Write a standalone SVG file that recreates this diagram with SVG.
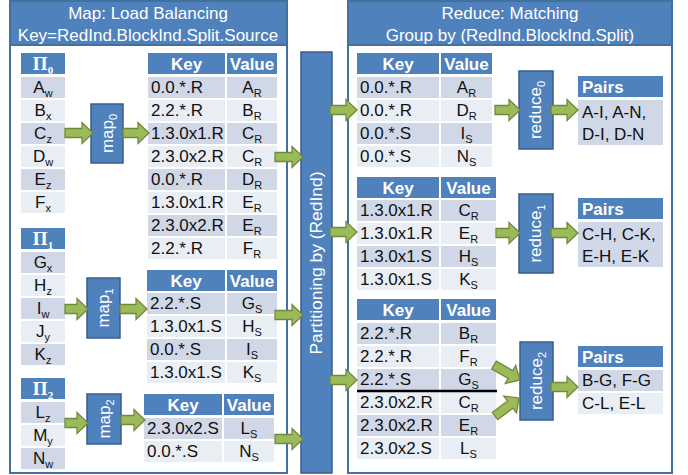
<svg xmlns="http://www.w3.org/2000/svg" width="688" height="475" viewBox="0 0 688 475">
<style>
.panel{fill:#fff;stroke:#41719C;stroke-width:2}
.h{fill:#4F81BD}
.d{fill:#D0D8E8}
.l{fill:#E9EDF4}
.box{fill:#4F81BD;stroke:#385D8A;stroke-width:1.5}
.t{font-family:"Liberation Sans",Arial,sans-serif;font-size:17px;fill:#111}
.c{text-anchor:middle}
.w{fill:#fff}
.b{font-weight:bold}
.pi{font-family:"Liberation Serif","Times New Roman",serif;font-size:19px;font-weight:bold;fill:#fff;text-anchor:middle}
.s{font-size:11px}
.arr{fill:#9BBB59;stroke:#71893F;stroke-width:1.3;stroke-linejoin:miter}
</style>
<defs>
<path id="a30" d="M0,-4.5 H19 V-10.5 L30,0 L19,10.5 V4.5 H0 Z"/>
</defs>
<rect width="688" height="475" fill="#fff"/>

<g id="map-panel">
<rect class="panel" x="10" y="1" width="277" height="472"/>
<rect class="h" x="10" y="1" width="277" height="44" stroke="#41719C" stroke-width="2"/>
<text class="t w c" x="148" y="19">Map: Load Balancing</text>
<text class="t w c" x="148" y="41">Key=RedInd.BlockInd.Split.Source</text>
</g>

<g id="reduce-panel">
<rect class="panel" x="348" y="1" width="324" height="472"/>
<rect class="h" x="348" y="1" width="324" height="44" stroke="#41719C" stroke-width="2"/>
<text class="t w c" x="510" y="19">Reduce: Matching</text>
<text class="t w c" x="510" y="41">Group by (RedInd.BlockInd.Split)</text>
</g>

<g id="pi0">
<rect class="h" x="21" y="53" width="44" height="21"/>
<text class="pi" x="43" y="70">Π<tspan class="s" dy="4" font-size="12">0</tspan></text>
<rect class="d" x="21" y="77" width="44" height="21"/><text class="t c" x="43" y="93">A<tspan class="s" dy="4">w</tspan></text>
<rect class="l" x="21" y="100" width="44" height="21"/><text class="t c" x="43" y="116">B<tspan class="s" dy="4">x</tspan></text>
<rect class="d" x="21" y="123" width="44" height="21"/><text class="t c" x="43" y="139">C<tspan class="s" dy="4">z</tspan></text>
<rect class="l" x="21" y="146" width="44" height="21"/><text class="t c" x="43" y="162">D<tspan class="s" dy="4">w</tspan></text>
<rect class="d" x="21" y="169" width="44" height="21"/><text class="t c" x="43" y="185">E<tspan class="s" dy="4">z</tspan></text>
<rect class="l" x="21" y="192" width="44" height="21"/><text class="t c" x="43" y="208">F<tspan class="s" dy="4">x</tspan></text>
</g>

<g id="pi1">
<rect class="h" x="21" y="228" width="44" height="21"/>
<text class="pi" x="43" y="245">Π<tspan class="s" dy="4" font-size="12">1</tspan></text>
<rect class="d" x="21" y="252" width="44" height="21"/><text class="t c" x="43" y="268">G<tspan class="s" dy="4">x</tspan></text>
<rect class="l" x="21" y="275" width="44" height="21"/><text class="t c" x="43" y="291">H<tspan class="s" dy="4">z</tspan></text>
<rect class="d" x="21" y="298" width="44" height="21"/><text class="t c" x="43" y="314">I<tspan class="s" dy="4">w</tspan></text>
<rect class="l" x="21" y="321" width="44" height="21"/><text class="t c" x="43" y="337">J<tspan class="s" dy="4">y</tspan></text>
<rect class="d" x="21" y="344" width="44" height="21"/><text class="t c" x="43" y="360">K<tspan class="s" dy="4">z</tspan></text>
</g>

<g id="pi2">
<rect class="h" x="21" y="378" width="44" height="21"/>
<text class="pi" x="43" y="395">Π<tspan class="s" dy="4" font-size="12">2</tspan></text>
<rect class="d" x="21" y="402" width="44" height="21"/><text class="t c" x="43" y="418">L<tspan class="s" dy="4">z</tspan></text>
<rect class="l" x="21" y="425" width="44" height="21"/><text class="t c" x="43" y="441">M<tspan class="s" dy="4">y</tspan></text>
<rect class="d" x="21" y="448" width="44" height="21"/><text class="t c" x="43" y="464">N<tspan class="s" dy="4">w</tspan></text>
</g>

<g id="map0">
<rect class="box" x="91" y="104" width="32" height="59"/>
<text class="t w c" transform="translate(112.5,133.5) rotate(-90)">map<tspan class="s" dy="4">0</tspan></text>
</g>
<g id="map1">
<rect class="box" x="87" y="278" width="33" height="60"/>
<text class="t w c" transform="translate(109,308) rotate(-90)">map<tspan class="s" dy="4">1</tspan></text>
</g>
<g id="map2">
<rect class="box" x="87" y="394" width="34" height="50"/>
<text class="t w c" transform="translate(109.5,419) rotate(-90)">map<tspan class="s" dy="4">2</tspan></text>
</g>

<g id="kv-map0">
<rect class="h" x="148" y="53" width="77" height="21"/><rect class="h" x="227" y="53" width="50" height="21"/>
<text class="t w b c" x="186.5" y="70">Key</text><text class="t w b c" x="252" y="70">Value</text>
<rect class="d" x="148" y="77" width="77" height="21"/><rect class="d" x="227" y="77" width="50" height="21"/>
<text class="t" x="151" y="93">0.0.*.R</text><text class="t c" x="252" y="93">A<tspan class="s" dy="4">R</tspan></text>
<rect class="l" x="148" y="100" width="77" height="21"/><rect class="l" x="227" y="100" width="50" height="21"/>
<text class="t" x="151" y="116">2.2.*.R</text><text class="t c" x="252" y="116">B<tspan class="s" dy="4">R</tspan></text>
<rect class="d" x="148" y="123" width="77" height="21"/><rect class="d" x="227" y="123" width="50" height="21"/>
<text class="t" x="151" y="139">1.3.0x1.R</text><text class="t c" x="252" y="139">C<tspan class="s" dy="4">R</tspan></text>
<rect class="l" x="148" y="146" width="77" height="21"/><rect class="l" x="227" y="146" width="50" height="21"/>
<text class="t" x="151" y="162">2.3.0x2.R</text><text class="t c" x="252" y="162">C<tspan class="s" dy="4">R</tspan></text>
<rect class="d" x="148" y="169" width="77" height="21"/><rect class="d" x="227" y="169" width="50" height="21"/>
<text class="t" x="151" y="185">0.0.*.R</text><text class="t c" x="252" y="185">D<tspan class="s" dy="4">R</tspan></text>
<rect class="l" x="148" y="192" width="77" height="21"/><rect class="l" x="227" y="192" width="50" height="21"/>
<text class="t" x="151" y="208">1.3.0x1.R</text><text class="t c" x="252" y="208">E<tspan class="s" dy="4">R</tspan></text>
<rect class="d" x="148" y="215" width="77" height="21"/><rect class="d" x="227" y="215" width="50" height="21"/>
<text class="t" x="151" y="231">2.3.0x2.R</text><text class="t c" x="252" y="231">E<tspan class="s" dy="4">R</tspan></text>
<rect class="l" x="148" y="238" width="77" height="21"/><rect class="l" x="227" y="238" width="50" height="21"/>
<text class="t" x="151" y="254">2.2.*.R</text><text class="t c" x="252" y="254">F<tspan class="s" dy="4">R</tspan></text>
</g>

<g id="kv-map1">
<rect class="h" x="147" y="270" width="78" height="21"/><rect class="h" x="227" y="270" width="50" height="21"/>
<text class="t w b c" x="186" y="287">Key</text><text class="t w b c" x="252" y="287">Value</text>
<rect class="d" x="147" y="293" width="78" height="21"/><rect class="d" x="227" y="293" width="50" height="21"/>
<text class="t" x="150" y="309">2.2.*.S</text><text class="t c" x="252" y="309">G<tspan class="s" dy="4">S</tspan></text>
<rect class="l" x="147" y="316" width="78" height="21"/><rect class="l" x="227" y="316" width="50" height="21"/>
<text class="t" x="150" y="332">1.3.0x1.S</text><text class="t c" x="252" y="332">H<tspan class="s" dy="4">S</tspan></text>
<rect class="d" x="147" y="339" width="78" height="21"/><rect class="d" x="227" y="339" width="50" height="21"/>
<text class="t" x="150" y="355">0.0.*.S</text><text class="t c" x="252" y="355">I<tspan class="s" dy="4">S</tspan></text>
<rect class="l" x="147" y="362" width="78" height="21"/><rect class="l" x="227" y="362" width="50" height="21"/>
<text class="t" x="150" y="378">1.3.0x1.S</text><text class="t c" x="252" y="378">K<tspan class="s" dy="4">S</tspan></text>
</g>

<g id="kv-map2">
<rect class="h" x="144" y="394" width="78" height="21"/><rect class="h" x="224" y="394" width="50" height="21"/>
<text class="t w b c" x="183" y="411">Key</text><text class="t w b c" x="249" y="411">Value</text>
<rect class="d" x="144" y="418" width="78" height="21"/><rect class="d" x="224" y="418" width="50" height="21"/>
<text class="t" x="147" y="434">2.3.0x2.S</text><text class="t c" x="249" y="434">L<tspan class="s" dy="4">S</tspan></text>
<rect class="l" x="144" y="441" width="78" height="21"/><rect class="l" x="224" y="441" width="50" height="21"/>
<text class="t" x="147" y="457">0.0.*.S</text><text class="t c" x="249" y="457">N<tspan class="s" dy="4">S</tspan></text>
</g>

<g id="partition">
<rect class="box" x="301" y="52" width="31" height="421"/>
<text class="t w c" transform="translate(322,263) rotate(-90)" textLength="183" lengthAdjust="spacingAndGlyphs">Partitioning by (RedInd)</text>
</g>

<g id="kv-red0">
<rect class="h" x="357" y="53" width="82" height="21"/><rect class="h" x="441" y="53" width="51" height="21"/>
<text class="t w b c" x="398" y="70">Key</text><text class="t w b c" x="466.5" y="70">Value</text>
<rect class="d" x="357" y="77" width="82" height="21"/><rect class="d" x="441" y="77" width="51" height="21"/>
<text class="t" x="360" y="93">0.0.*.R</text><text class="t c" x="466.5" y="93">A<tspan class="s" dy="4">R</tspan></text>
<rect class="l" x="357" y="100" width="82" height="21"/><rect class="l" x="441" y="100" width="51" height="21"/>
<text class="t" x="360" y="116">0.0.*.R</text><text class="t c" x="466.5" y="116">D<tspan class="s" dy="4">R</tspan></text>
<rect class="d" x="357" y="123" width="82" height="21"/><rect class="d" x="441" y="123" width="51" height="21"/>
<text class="t" x="360" y="139">0.0.*.S</text><text class="t c" x="466.5" y="139">I<tspan class="s" dy="4">S</tspan></text>
<rect class="l" x="357" y="146" width="82" height="21"/><rect class="l" x="441" y="146" width="51" height="21"/>
<text class="t" x="360" y="162">0.0.*.S</text><text class="t c" x="466.5" y="162">N<tspan class="s" dy="4">S</tspan></text>
</g>

<g id="kv-red1">
<rect class="h" x="357" y="177" width="82" height="21"/><rect class="h" x="441" y="177" width="55" height="21"/>
<text class="t w b c" x="398" y="194">Key</text><text class="t w b c" x="468.5" y="194">Value</text>
<rect class="d" x="357" y="200" width="82" height="21"/><rect class="d" x="441" y="200" width="55" height="21"/>
<text class="t" x="360" y="216">1.3.0x1.R</text><text class="t c" x="468.5" y="216">C<tspan class="s" dy="4">R</tspan></text>
<rect class="l" x="357" y="223" width="82" height="21"/><rect class="l" x="441" y="223" width="55" height="21"/>
<text class="t" x="360" y="239">1.3.0x1.R</text><text class="t c" x="468.5" y="239">E<tspan class="s" dy="4">R</tspan></text>
<rect class="d" x="357" y="246" width="82" height="21"/><rect class="d" x="441" y="246" width="55" height="21"/>
<text class="t" x="360" y="262">1.3.0x1.S</text><text class="t c" x="468.5" y="262">H<tspan class="s" dy="4">S</tspan></text>
<rect class="l" x="357" y="269" width="82" height="21"/><rect class="l" x="441" y="269" width="55" height="21"/>
<text class="t" x="360" y="285">1.3.0x1.S</text><text class="t c" x="468.5" y="285">K<tspan class="s" dy="4">S</tspan></text>
</g>

<g id="kv-red2">
<rect class="h" x="357" y="299" width="82" height="21"/><rect class="h" x="441" y="299" width="55" height="21"/>
<text class="t w b c" x="398" y="316">Key</text><text class="t w b c" x="468.5" y="316">Value</text>
<rect class="d" x="357" y="323" width="82" height="21"/><rect class="d" x="441" y="323" width="55" height="21"/>
<text class="t" x="360" y="339">2.2.*.R</text><text class="t c" x="468.5" y="339">B<tspan class="s" dy="4">R</tspan></text>
<rect class="l" x="357" y="346" width="82" height="21"/><rect class="l" x="441" y="346" width="55" height="21"/>
<text class="t" x="360" y="362">2.2.*.R</text><text class="t c" x="468.5" y="362">F<tspan class="s" dy="4">R</tspan></text>
<rect class="d" x="357" y="369" width="82" height="21"/><rect class="d" x="441" y="369" width="55" height="21"/>
<text class="t" x="360" y="385">2.2.*.S</text><text class="t c" x="468.5" y="385">G<tspan class="s" dy="4">S</tspan></text>
<rect class="l" x="357" y="392" width="82" height="21"/><rect class="l" x="441" y="392" width="55" height="21"/>
<text class="t" x="360" y="408">2.3.0x2.R</text><text class="t c" x="468.5" y="408">C<tspan class="s" dy="4">R</tspan></text>
<rect class="d" x="357" y="415" width="82" height="21"/><rect class="d" x="441" y="415" width="55" height="21"/>
<text class="t" x="360" y="431">2.3.0x2.R</text><text class="t c" x="468.5" y="431">E<tspan class="s" dy="4">R</tspan></text>
<rect class="l" x="357" y="438" width="82" height="21"/><rect class="l" x="441" y="438" width="55" height="21"/>
<text class="t" x="360" y="454">2.3.0x2.S</text><text class="t c" x="468.5" y="454">L<tspan class="s" dy="4">S</tspan></text>
<line x1="357" y1="391" x2="497" y2="391" stroke="#000" stroke-width="2.5"/>
</g>

<g id="reduce0">
<rect class="box" x="519" y="71" width="34" height="78"/>
<text class="t w c" transform="translate(541,110) rotate(-90)">reduce<tspan class="s" dy="4">0</tspan></text>
</g>
<g id="reduce1">
<rect class="box" x="519" y="194" width="34" height="79"/>
<text class="t w c" transform="translate(541,233.5) rotate(-90)">reduce<tspan class="s" dy="4">1</tspan></text>
</g>
<g id="reduce2">
<rect class="box" x="520" y="342" width="33" height="78"/>
<text class="t w c" transform="translate(541.5,381) rotate(-90)">reduce<tspan class="s" dy="4">2</tspan></text>
</g>

<g id="pairs0">
<rect class="h" x="578" y="76" width="85" height="21"/>
<text class="t w b" x="582" y="93">Pairs</text>
<rect class="d" x="578" y="100" width="85" height="45"/>
<text class="t" x="582" y="118">A-I, A-N,</text>
<text class="t" x="582" y="140">D-I, D-N</text>
</g>
<g id="pairs1">
<rect class="h" x="578" y="198" width="85" height="21"/>
<text class="t w b" x="582" y="215">Pairs</text>
<rect class="d" x="578" y="222" width="85" height="45"/>
<text class="t" x="582" y="240">C-H, C-K,</text>
<text class="t" x="582" y="262">E-H, E-K</text>
</g>
<g id="pairs2">
<rect class="h" x="578" y="346" width="85" height="21"/>
<text class="t w b" x="582" y="363">Pairs</text>
<rect class="d" x="578" y="370" width="85" height="21"/>
<text class="t" x="582" y="386">B-G, F-G</text>
<rect class="l" x="578" y="393" width="85" height="21"/>
<text class="t" x="582" y="409">C-L, E-L</text>
</g>

<g id="connectors">
<path class="arr" d="M65,128.5 H82 V122.5 L93,133 L82,143.5 V137.5 H65 Z"/>
<path class="arr" d="M123,128.5 H138 V122.5 L149,133 L138,143.5 V137.5 H123 Z"/>
<path class="arr" d="M65,304.5 H77 V298.5 L88,309 L77,319.5 V313.5 H65 Z"/>
<path class="arr" d="M120,304.5 H136 V298.5 L147,309 L136,319.5 V313.5 H120 Z"/>
<path class="arr" d="M65,418.5 H77 V412.5 L88,423 L77,433.5 V427.5 H65 Z"/>
<path class="arr" d="M121,415.5 H134 V409.5 L145,420 L134,430.5 V424.5 H121 Z"/>
<path class="arr" d="M275,152.5 H292 V146.5 L303,157 L292,167.5 V161.5 H275 Z"/>
<path class="arr" d="M275,310.5 H292 V304.5 L303,315 L292,325.5 V319.5 H275 Z"/>
<path class="arr" d="M275,434.5 H292 V428.5 L303,439 L292,449.5 V443.5 H275 Z"/>
<path class="arr" d="M330,105.5 H346 V99.5 L357,110 L346,120.5 V114.5 H330 Z"/>
<path class="arr" d="M330,227.5 H346 V221.5 L357,232 L346,242.5 V236.5 H330 Z"/>
<path class="arr" d="M330,375.5 H346 V369.5 L357,380 L346,390.5 V384.5 H330 Z"/>
<path class="arr" d="M495,105.5 H509 V99.5 L520,110 L509,120.5 V114.5 H495 Z"/>
<path class="arr" d="M551,105.5 H567 V99.5 L578,110 L567,120.5 V114.5 H551 Z"/>
<path class="arr" d="M496,228.5 H509 V222.5 L520,233 L509,243.5 V237.5 H496 Z"/>
<path class="arr" d="M551,228.5 H567 V222.5 L578,233 L567,243.5 V237.5 H551 Z"/>
<path class="arr" d="M551,382.5 H567 V376.5 L578,387 L567,397.5 V391.5 H551 Z"/>
<use href="#a30" class="arr" transform="translate(494,365) rotate(30)"/>
<use href="#a30" class="arr" transform="translate(495,416) rotate(-37)"/>
</g>
</svg>
